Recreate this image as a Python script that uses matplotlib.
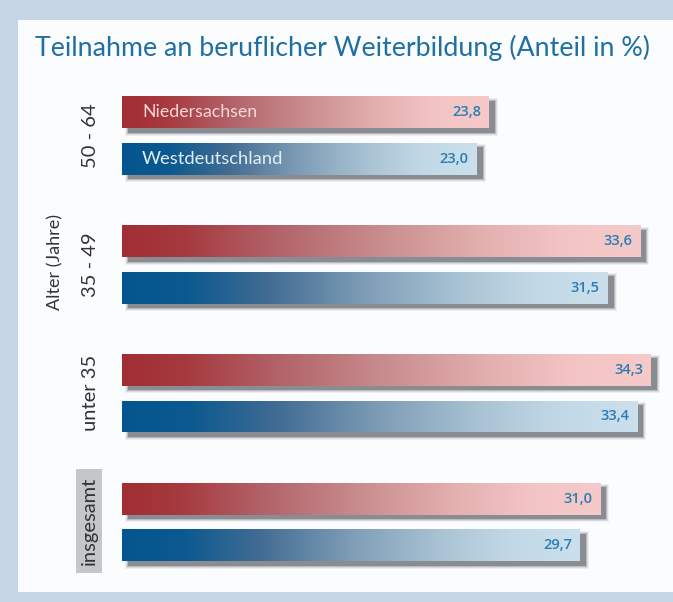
import numpy as np
import matplotlib
matplotlib.use("Agg")
import matplotlib.pyplot as plt
from matplotlib.patches import Rectangle
from matplotlib.colors import LinearSegmentedColormap

groups = ["50 - 64", "35 - 49", "unter 35", "insgesamt"]
series = ["Niedersachsen", "Westdeutschland"]
niedersachsen = [23.8, 33.6, 34.3, 31.0]
westdeutschland = [23.0, 31.5, 33.4, 29.7]
title = "Teilnahme an beruflicher Weiterbildung (Anteil in %)"
axis_label = "Alter (Jahre)"

W, H = 673, 602
fig = plt.figure(figsize=(W / 100, H / 100), dpi=100)
fig.patch.set_facecolor("#c5d5e6")
fig.patches.append(Rectangle((18 / W, (H - 592) / H), (W - 18) / W, (592 - 20) / H,
                             transform=fig.transFigure, facecolor="#fbfcfe",
                             edgecolor="none", zorder=-5))

# axes: x=0 at 122 px, 15.42 px per unit
x0 = 122
ppu = 15.42
xmax = 35
top_px, bot_px = 80, 580
ax = fig.add_axes([x0 / W, (H - bot_px) / H, xmax * ppu / W, (bot_px - top_px) / H])
ax.set_facecolor("none")
ax.set_zorder(2)
spacing = 128.75
g0 = 135.75
ax.set_xlim(0, xmax)
ax.set_ylim((bot_px - g0) / spacing, -(g0 - top_px) / spacing)
ax.axis("off")

off = 23.25 / spacing
bh = 32 / spacing
red_cmap = LinearSegmentedColormap.from_list(
    "r", [(0, "#a12e34"), (0.12, "#a63a3f"), (0.3, "#b2646a"), (0.5, "#c98d8f"),
          (0.7, "#e4b0b0"), (0.85, "#f3c4c4"), (1, "#f6caca")])
blue_cmap = LinearSegmentedColormap.from_list(
    "b", [(0, "#04558f"), (0.13, "#0b5990"), (0.3, "#416c93"), (0.5, "#7e9db6"),
          (0.7, "#aac4d5"), (0.85, "#c2d8e6"), (1, "#cbe0ec")])
grad = np.linspace(0, 1, 256).reshape(1, -1)

ypos = np.arange(len(groups))
sdx = 6 / ppu
sdy = 4.5 / spacing

for vals, sign, cmap in [(niedersachsen, -1, red_cmap), (westdeutschland, 1, blue_cmap)]:
    ys = ypos + sign * off
    # soft shadows
    for alpha, grow in [(0.08, 3), (0.14, 2), (0.25, 1), (0.5, 0)]:
        ax.barh(ys + sdy, np.array(vals) + 2 * grow / ppu, height=bh + 2 * grow / spacing,
                left=sdx - grow / ppu, color="#5b6066", alpha=alpha, zorder=1, linewidth=0)
    bars = ax.barh(ys, vals, height=bh, color="none", zorder=2, linewidth=0)
    for b, v in zip(bars, vals):
        x, y = b.get_x(), b.get_y()
        w, h = b.get_width(), b.get_height()
        im = ax.imshow(grad, cmap=cmap, aspect="auto", extent=(x, x + w, y + h, y),
                       zorder=3, interpolation="bicubic")
        im.set_clip_path(b)
        ax.text(x + w - 8 / ppu, y + h / 2, f"{v:.1f}".replace(".", ","),
                ha="right", va="center", color="#2b7cb4", fontsize=10.5,
                fontweight="semibold", family="Open Sans", zorder=4)

# series names in first group
ax.text(20 / ppu, 0 - off, series[0], ha="left", va="center", color="#f6d6d6",
        fontsize=12.8, family="Lato", zorder=4)
ax.text(20 / ppu, 0 + off, series[1], ha="left", va="center", color="#e2eef6",
        fontsize=13.2, family="Lato", zorder=4)

# group labels
for i, g in enumerate(groups):
    fx = 90 / W
    fy = (H - (g0 + i * spacing)) / H
    if g == "insgesamt":
        fig.patches.append(Rectangle((76 / W, (H - 573) / H), 26 / W, 104 / H,
                                     transform=fig.transFigure, facecolor="#c4c6c9",
                                     edgecolor="none", zorder=1))
        fig.text(89 / W, (H - 521) / H, g, rotation=90, ha="center", va="center",
                 fontsize=14.5, color="#333333", family="Lato")
    else:
        fig.text(fx, fy, g, rotation=90, ha="center", va="center",
                 fontsize=14.5, color="#333333", family="Lato")

fig.text(55 / W, (H - 262) / H, axis_label, rotation=90, ha="center", va="center",
         fontsize=13, color="#333333", family="Lato")

fig.text(35 / W, (H - 48) / H, title, ha="left", va="center", fontsize=19.3,
         color="#1f6fa3", family="Lato")

fig.savefig("out.png", dpi=100, facecolor=fig.get_facecolor())
